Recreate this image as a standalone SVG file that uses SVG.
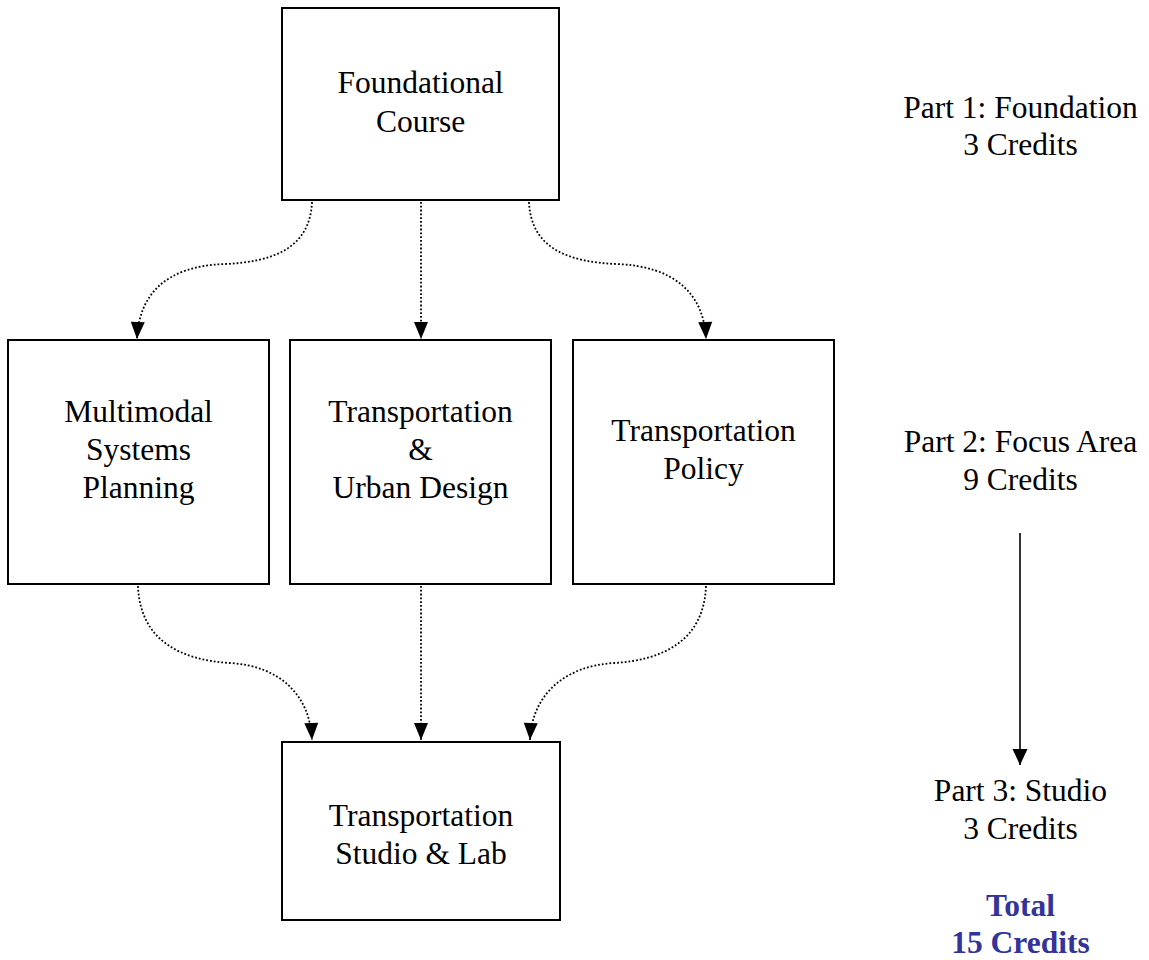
<svg xmlns="http://www.w3.org/2000/svg" width="1149" height="960" viewBox="0 0 1149 960">
<style>
.box{fill:#fff;stroke:#000;stroke-width:2}
.t{font-family:"Liberation Serif","Times New Roman",serif;font-size:31.5px;fill:#000;text-anchor:middle}
.tot{font-family:"Liberation Serif","Times New Roman",serif;font-size:31.5px;font-weight:bold;fill:#333399;text-anchor:middle}
.dot{fill:none;stroke:#000;stroke-width:1.8;stroke-dasharray:1.8 2;marker-end:url(#ah)}
.solid{fill:none;stroke:#000;stroke-width:1.6;marker-end:url(#ah2)}
</style>
<defs>
<marker id="ah" markerUnits="userSpaceOnUse" markerWidth="18" markerHeight="16" refX="17" refY="7" orient="auto" overflow="visible">
<path d="M0,0 L17,7 L0,14 Z" fill="#000"/>
</marker>
<marker id="ah2" markerUnits="userSpaceOnUse" markerWidth="18" markerHeight="17" refX="16" refY="7.5" orient="auto" overflow="visible">
<path d="M0,0 L16,7.5 L0,15 Z" fill="#000"/>
</marker>
</defs>
<rect width="1149" height="960" fill="#fff"/>
<g id="connectors">
<path class="dot" d="M312,202 C310,250 270,262 225,264 C165,266 139,295 137,339"/>
<path class="dot" d="M421,202 L421,339"/>
<path class="dot" d="M529,202 C531,250 571,262 616,264 C676,266 704,295 706,339"/>
<path class="dot" d="M138,586 C140,640 180,660 230,663 C280,666 310,695 312,740"/>
<path class="dot" d="M421,586 L421,740"/>
<path class="dot" d="M706,586 C704,640 664,660 614,663 C564,666 532,695 530,740"/>
<path class="solid" d="M1020,533 L1020,765"/>
</g>
<g id="foundational">
<rect class="box" x="282" y="8" width="277" height="192"/>
<text class="t" x="420.5" y="92.5">Foundational</text>
<text class="t" x="420.5" y="131.5">Course</text>
</g>
<g id="multimodal">
<rect class="box" x="8" y="340" width="261" height="244"/>
<text class="t" x="138.5" y="421.5">Multimodal</text>
<text class="t" x="138.5" y="459.5">Systems</text>
<text class="t" x="138.5" y="497.5">Planning</text>
</g>
<g id="urban">
<rect class="box" x="290" y="340" width="261" height="244"/>
<text class="t" x="420.5" y="421.5">Transportation</text>
<text class="t" x="420.5" y="459.5">&amp;</text>
<text class="t" x="420.5" y="497.5">Urban Design</text>
</g>
<g id="policy">
<rect class="box" x="573" y="340" width="261" height="244"/>
<text class="t" x="703.5" y="441">Transportation</text>
<text class="t" x="703.5" y="479">Policy</text>
</g>
<g id="studio">
<rect class="box" x="282" y="742" width="278" height="178"/>
<text class="t" x="421" y="826">Transportation</text>
<text class="t" x="421" y="864">Studio &amp; Lab</text>
</g>
<g id="labels">
<text class="t" x="1020.5" y="117.5">Part 1: Foundation</text>
<text class="t" x="1020.5" y="155">3 Credits</text>
<text class="t" x="1020.5" y="452">Part 2: Focus Area</text>
<text class="t" x="1020.5" y="490">9 Credits</text>
<text class="t" x="1020.5" y="801">Part 3: Studio</text>
<text class="t" x="1020.5" y="839">3 Credits</text>
<text class="tot" x="1020.5" y="916">Total</text>
<text class="tot" x="1020.5" y="953">15 Credits</text>
</g>
</svg>
